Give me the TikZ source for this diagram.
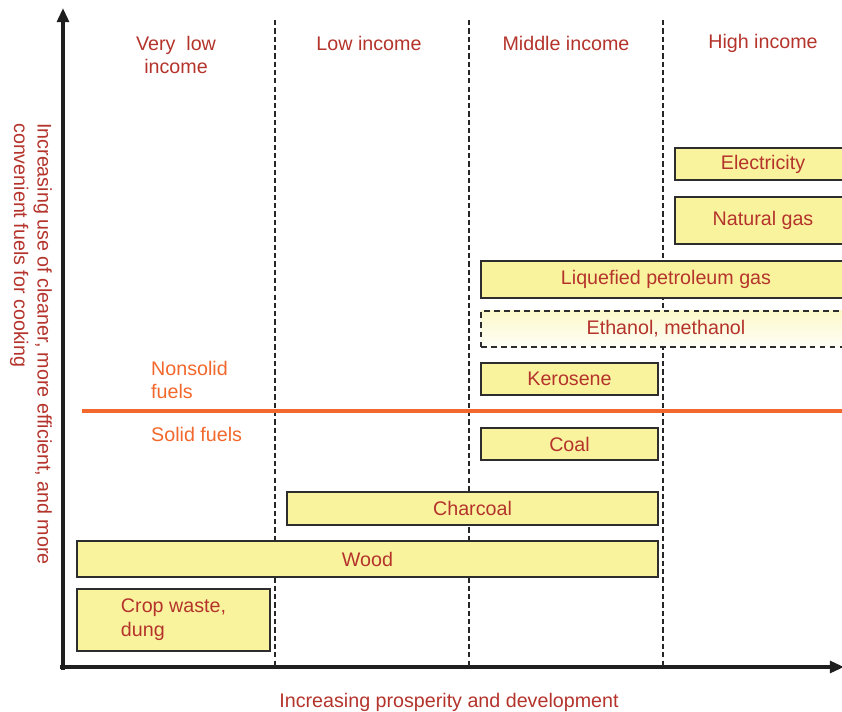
\documentclass[tikz,border=0pt]{standalone}
\usepackage{fontspec}
\setmainfont{Liberation Sans}
\usetikzlibrary{arrows.meta}
\definecolor{txtred}{RGB}{180,52,44}
\definecolor{fuelorange}{RGB}{242,104,44}
\definecolor{boxfill}{RGB}{250,243,158}
\definecolor{boxline}{RGB}{45,45,45}
\begin{document}
\begin{tikzpicture}[x=0.03cm, y=-0.03cm,
    every node/.style={font=\fontsize{16.8}{20}\selectfont, text=txtred},
    header/.style={align=center},
    fuel/.style={draw=boxline, line width=1.4pt, fill=boxfill, inner sep=0pt},
    newfuel/.style={draw=boxline, line width=1.4pt, dash pattern=on 5pt off 3.5pt,
        top color=boxfill!55, bottom color=boxfill!8, inner sep=0pt},
    axis/.style={line width=3pt, black!88, -{Triangle[length=12pt,width=10pt]}},
    divider/.style={line width=1.4pt, black!85, dash pattern=on 4.5pt off 2.6pt}]
\useasboundingbox (0,0) rectangle (842,712);
\clip (0,0) rectangle (842,712);
% axes
\coordinate (ybot) at (63,670);
\coordinate (ytop) at (63,8);
\coordinate (xbeg) at (60,667);
\coordinate (xend) at (844,667);
\draw[axis] (ybot) -- (ytop);
\draw[axis] (xbeg) -- (xend);
% column dividers
\coordinate (d1-t) at (275,20);  \coordinate (d1-b) at (275,667);
\coordinate (d2-t) at (469,20);  \coordinate (d2-b) at (469,667);
\coordinate (d3-t) at (663,20);  \coordinate (d3-b) at (663,667);
\draw[divider] (d1-t) -- (d1-b);
\draw[divider] (d2-t) -- (d2-b);
\draw[divider] (d3-t) -- (d3-b);
% solid / nonsolid
\coordinate (s-l) at (82,411);
\coordinate (s-r) at (845,411);
\draw[line width=2.8pt, fuelorange] (s-l) -- (s-r);
% headers
\node[header] (h-vlow) at (176,55) {Very\ \ low\\income};
\node[header] (h-low)  at (369,43) {Low income};
\node[header] (h-mid)  at (566,43) {Middle income};
\node[header] (h-high) at (763,43) {High income};
\node[align=left, anchor=west, inner sep=0pt, text=fuelorange] (nonsolid) at (151,380) {Nonsolid\\fuels};
\node[anchor=west, inner sep=0pt, text=fuelorange] (solid) at (151,434) {Solid fuels};
% fuels
\node[fuel, minimum width=5.28cm, minimum height=0.96cm] (elec) at (763,164) {Electricity};
\node[fuel, minimum width=5.28cm, minimum height=1.41cm] (gas)  at (763,220.5) {Natural gas};
\node[fuel, minimum width=11.1cm, minimum height=1.11cm] (lpg)  at (666,279.5) {Liquefied petroleum gas};
\node[newfuel, minimum width=11.1cm, minimum height=1.08cm] (eth) at (666,329) {Ethanol, methanol};
\node[fuel, minimum width=5.31cm, minimum height=0.96cm] (kero) at (569.5,379) {Kerosene};
\node[fuel, minimum width=5.31cm, minimum height=0.96cm] (coal) at (569.5,444) {Coal};
\node[fuel, minimum width=11.13cm, minimum height=0.99cm] (charcoal) at (472.5,508.5) {Charcoal};
\node[fuel, minimum width=17.43cm, minimum height=1.08cm] (wood) at (367.5,559) {Wood};
\node[fuel, minimum width=5.79cm, minimum height=1.86cm, align=left,
    font=\fontsize{16.8}{20.5}\selectfont] (crop) at (173.5,620) {Crop waste,\\dung};
% axis labels
\node[rotate=-90, align=left, anchor=west, inner sep=0pt] (ylab) at (31,123)
    {Increasing use of cleaner, more efficient, and more\\convenient fuels for cooking};
\node (xlab) at (449,702) {Increasing prosperity and development};
\end{tikzpicture}
\end{document}
